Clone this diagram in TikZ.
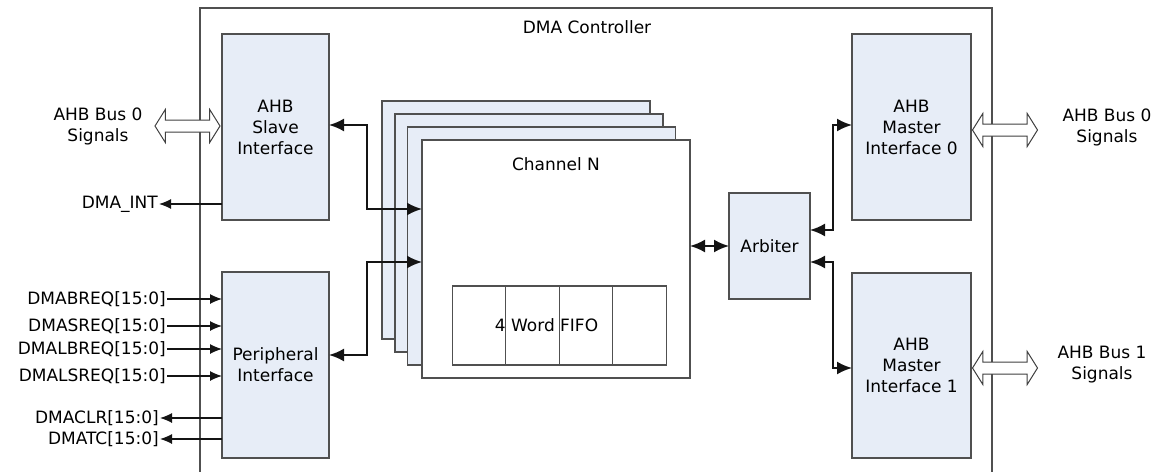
\documentclass[tikz,border=0pt]{standalone}
\usepackage{fontspec}
\setmainfont{DejaVu Sans}
\usetikzlibrary{shapes.arrows,arrows.meta,positioning,calc}
\definecolor{blkfill}{RGB}{231,237,247}
\definecolor{blkline}{RGB}{80,80,80}
\definecolor{sigline}{RGB}{20,20,20}

\begin{document}
\begin{tikzpicture}[
    x=1pt, y=-1pt,
    every node/.style={font=\fontsize{17}{21}\selectfont},
    block/.style={rectangle, draw=blkline, line width=1.2pt, fill=blkfill,
                 inner sep=0pt, outer sep=0pt, align=center},
    card/.style={block, minimum width=268, minimum height=238},
    cell/.style={rectangle, draw=blkline, line width=1.2pt, fill=white,
                 inner sep=0pt, outer sep=0pt, minimum width=53.5, minimum height=79},
    lbl/.style={inner sep=1pt, align=center},
    buswide/.style={double arrow, draw=blkline!80!black, line width=1pt, fill=white, inner xsep=0pt,
                 inner ysep=5.5pt, minimum height=65, minimum width=32,
                 double arrow head extend=10.5pt, double arrow tip angle=116},
    arr/.style={-{Latex[length=12pt,width=10pt]}, line width=1.2pt, sigline},
    biarr/.style={{Latex[length=15pt,width=13pt]}-{Latex[length=15pt,width=13pt]}, line width=2pt, sigline}
]
\useasboundingbox (0,0) rectangle (1161,471);
\draw[blkline, line width=1.2pt] (200,8) rectangle (992,490);
\node (title) at (587,27) {DMA Controller};

% interfaces
\node[block, minimum width=107, minimum height=186] (slave) at (275.5,127) {AHB\\Slave\\Interface};
\node[block, minimum width=107, minimum height=186] (periph) at (275.5,365) {Peripheral\\Interface};
\node[block, minimum width=119, minimum height=186] (m0) at (911.5,127) {AHB\\Master\\Interface 0};
\node[block, minimum width=119, minimum height=185] (m1) at (911.5,365.5) {AHB\\Master\\Interface 1};
\node[block, minimum width=81, minimum height=106] (arb) at (769.5,246) {Arbiter};

% channel stack
\node[card] (ch1) at (516,220) {};
\node[card] (ch2) at (529,233) {};
\node[card] (ch3) at (541.5,246) {};
\node[card, fill=white] (chan) at (556,259) {};
\node[below=14pt of chan.north] (chname) {Channel N};

% fifo
\node[cell] (f1) at (479,325.5) {};
\node[cell, right=0pt of f1] (f2) {};
\node[cell, right=0pt of f2] (f3) {};
\node[cell, right=0pt of f3] (f4) {};
\node[inner sep=0pt] (fifo) at (546.5,325) {4 Word FIFO};

% bus signals
\node[lbl] (bus0l) at (98,126) {AHB Bus 0\\Signals};
\node[lbl] (bus0r) at (1107,127) {AHB Bus 0\\Signals};
\node[lbl] (bus1r) at (1102,365) {AHB Bus 1\\Signals};
\node[buswide] (sbus) at (187.5,126) {};
\node[buswide] (m0bus) at (1005,130) {};
\node[buswide] (m1bus) at (1005,368) {};

% side signals
\node[lbl, anchor=east] (dmaint) at (159,204) {DMA\_INT};
\draw[arr] (slave.west |- dmaint) -- (dmaint.east);
\foreach \sig/\yy in {DMABREQ/299, DMASREQ/326, DMALBREQ/349, DMALSREQ/376} {
  \node[lbl, anchor=east] (\sig) at (167,\yy) {\sig[15:0]};
  \draw[arr] (\sig.east) -- (periph.west |- \sig);
}
\foreach \sig/\yy in {DMACLR/418, DMATC/439} {
  \node[lbl, anchor=east] (\sig) at (160,\yy) {\sig[15:0]};
  \draw[arr] (periph.west |- \sig) -- (\sig.east);
}

% internal links
\draw[biarr] ($(slave.east)+(0,-2)$) -- ++(38,0) |- ($(chan.west)+(0,-50)$);
\draw[biarr] ($(periph.east)+(0,-10)$) -- ++(38,0) |- ($(chan.west)+(0,3)$);
\draw[biarr] (chan.east |- arb.west) -- (arb.west);
\draw[biarr] ($(arb.east)+(0,-16)$) -- ++(23,0) |- ($(m0.west)+(0,-2)$);
\draw[biarr] ($(arb.east)+(0,16)$) -- ++(23,0) |- ($(m1.west)+(0,2.5)$);
\end{tikzpicture}
\end{document}
